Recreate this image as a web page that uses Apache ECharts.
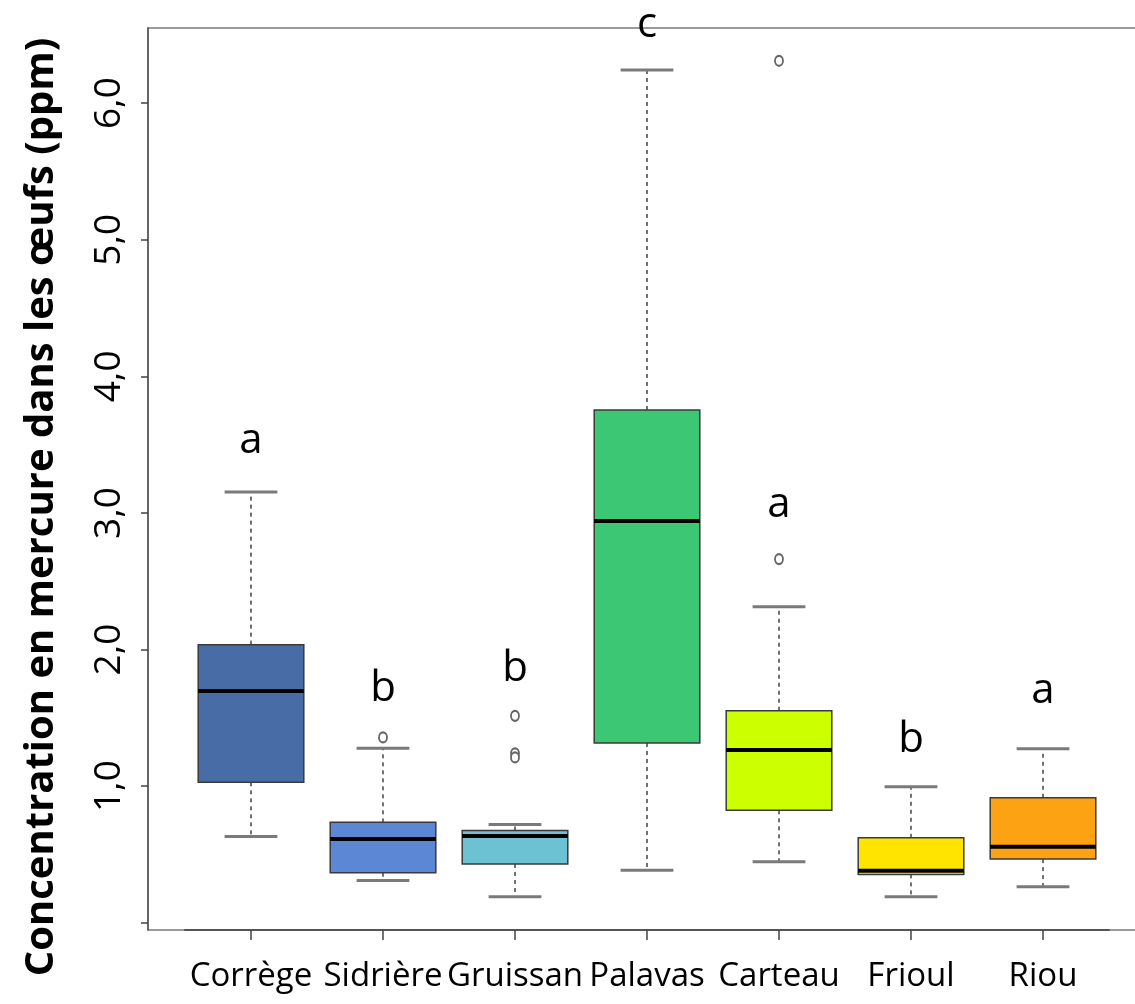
<!DOCTYPE html>
<html>
<head>
<meta charset="utf-8">
<script src="https://cdn.jsdelivr.net/npm/echarts@6/dist/echarts.min.js"></script>
<style>
html,body{margin:0;padding:0;background:#fff;}
#chart{width:1135px;height:1004px;}
</style>
</head>
<body>
<div id="chart"></div>
<script>
const categories = ['Corrège', 'Sidrière', 'Gruissan', 'Palavas', 'Carteau', 'Frioul', 'Riou'];
const whiskerLow  = [0.632, 0.310, 0.190, 0.384, 0.447, 0.190, 0.264];
const q1          = [1.028, 0.366, 0.430, 1.316, 0.823, 0.354, 0.466];
const median      = [1.697, 0.613, 0.635, 2.941, 1.264, 0.381, 0.556];
const q3          = [2.036, 0.735, 0.676, 3.754, 1.552, 0.622, 0.915];
const whiskerHigh = [3.154, 1.277, 0.720, 6.242, 2.313, 0.996, 1.274];
const outlierCat  = [1, 2, 2, 2, 4, 4];
const outlierVal  = [1.357, 1.515, 1.240, 1.210, 6.310, 2.662];
const letters     = ['a', 'b', 'b', 'c', 'a', 'b', 'a'];
const letterY     = [3.53, 1.71, 1.86, 6.57, 3.06, 1.34, 1.70];
const yTicks      = [0, 1, 2, 3, 4, 5, 6];
const yLabels     = [1, 2, 3, 4, 5, 6];
const boxColors   = ['#476ca6', '#5b87d4', '#6cc1d2', '#3cc774', '#ccff00', '#ffe400', '#fca213'];

const boxData = categories.map((c, i) => [i, whiskerLow[i], q1[i], median[i], q3[i], whiskerHigh[i]]);
const outlierData = outlierCat.map((c, i) => [c, outlierVal[i]]);
const letterData = letters.map((l, i) => ({ value: [i, letterY[i]], name: l }));

const chart = echarts.init(document.getElementById('chart'), null, { renderer: 'canvas' });

const option = {
  backgroundColor: '#ffffff',
  animation: false,
  grid: [
    { left: 185, top: 28, width: 924, height: 902, outerBoundsMode: 'none', containLabel: false },
    { left: 148, top: 28, width: 998, height: 902, show: true, borderColor: '#7a7a7a', borderWidth: 1.5, backgroundColor: 'transparent', outerBoundsMode: 'none', containLabel: false, z: 0 }
  ],
  xAxis: [
    {
      type: 'category', gridIndex: 0, data: categories, boundaryGap: true,
      axisLine: { show: true, onZero: false, lineStyle: { color: '#555', width: 2 } },
      axisTick: { show: true, alignWithLabel: true, length: 10, lineStyle: { color: '#444', width: 1.5 } },
      axisLabel: { interval: 0, margin: 30, color: '#000', fontFamily: '"Open Sans"', fontSize: 33 },
      splitLine: { show: false }
    },
    { type: 'value', gridIndex: 1, show: false, min: 0, max: 1 }
  ],
  yAxis: [
    {
      type: 'value', gridIndex: 0, min: -0.053, max: 6.55, offset: 37,
      axisLine: { show: true, onZero: false, lineStyle: { color: '#555', width: 1.5 } },
      axisTick: { show: true, length: 7, customValues: yTicks, lineStyle: { color: '#444', width: 1.5 } },
      axisLabel: {
        show: true, rotate: 90, margin: 20, customValues: yLabels,
        color: '#000', fontFamily: '"Open Sans"', fontSize: 37,
        formatter: v => Number(v).toFixed(1).replace('.', ',')
      },
      splitLine: { show: false }
    },
    { type: 'value', gridIndex: 1, show: false, min: 0, max: 1 }
  ],
  graphic: [
    {
      type: 'text', x: 42, y: 507, rotation: Math.PI / 2, z: 10,
      style: {
        text: 'Concentration en mercure dans les œufs (ppm)',
        fill: '#000', font: 'bold 40px "Open Sans"',
        align: 'center', verticalAlign: 'middle',
        textAlign: 'center', textVerticalAlign: 'middle'
      }
    }
  ],
  series: [
    {
      type: 'custom', xAxisIndex: 0, yAxisIndex: 0, data: boxData, z: 3,
      renderItem: function (params, api) {
        const i = api.value(0);
        const pLo = api.coord([i, api.value(1)]);
        const pQ1 = api.coord([i, api.value(2)]);
        const pMed = api.coord([i, api.value(3)]);
        const pQ3 = api.coord([i, api.value(4)]);
        const pHi = api.coord([i, api.value(5)]);
        const band = api.size([1, 0])[0];
        const bw = band * 0.8;
        const cw = bw * 0.5;
        const cx = pMed[0];
        const dash = { stroke: '#444', lineWidth: 1.5, lineDash: [4, 4] };
        const cap = { stroke: '#7a7a7a', lineWidth: 3 };
        return {
          type: 'group',
          children: [
            { type: 'line', shape: { x1: cx, y1: pQ3[1], x2: cx, y2: pHi[1] }, style: dash },
            { type: 'line', shape: { x1: cx, y1: pQ1[1], x2: cx, y2: pLo[1] }, style: dash },
            { type: 'line', shape: { x1: cx - cw / 2, y1: pHi[1], x2: cx + cw / 2, y2: pHi[1] }, style: cap },
            { type: 'line', shape: { x1: cx - cw / 2, y1: pLo[1], x2: cx + cw / 2, y2: pLo[1] }, style: cap },
            { type: 'rect', shape: { x: cx - bw / 2, y: pQ3[1], width: bw, height: pQ1[1] - pQ3[1] },
              style: { fill: boxColors[params.dataIndex], stroke: '#3a3a3a', lineWidth: 1.5 } },
            { type: 'line', shape: { x1: cx - bw / 2, y1: pMed[1], x2: cx + bw / 2, y2: pMed[1] },
              style: { stroke: '#000', lineWidth: 4 } }
          ]
        };
      }
    },
    {
      type: 'scatter', xAxisIndex: 0, yAxisIndex: 0, data: outlierData, z: 4,
      symbol: 'emptyCircle', symbolSize: [8, 10],
      itemStyle: { color: '#666', borderColor: '#666', borderWidth: 1.3, opacity: 1 }
    },
    {
      type: 'scatter', xAxisIndex: 0, yAxisIndex: 0, data: letterData, z: 5, clip: false,
      symbolSize: 0,
      label: {
        show: true, position: 'inside', formatter: p => p.name,
        color: '#000', opacity: 1, fontFamily: '"Open Sans"', fontSize: 42,
        align: 'center', verticalAlign: 'middle'
      }
    }
  ]
};
chart.setOption(option);
</script>
</body>
</html>
